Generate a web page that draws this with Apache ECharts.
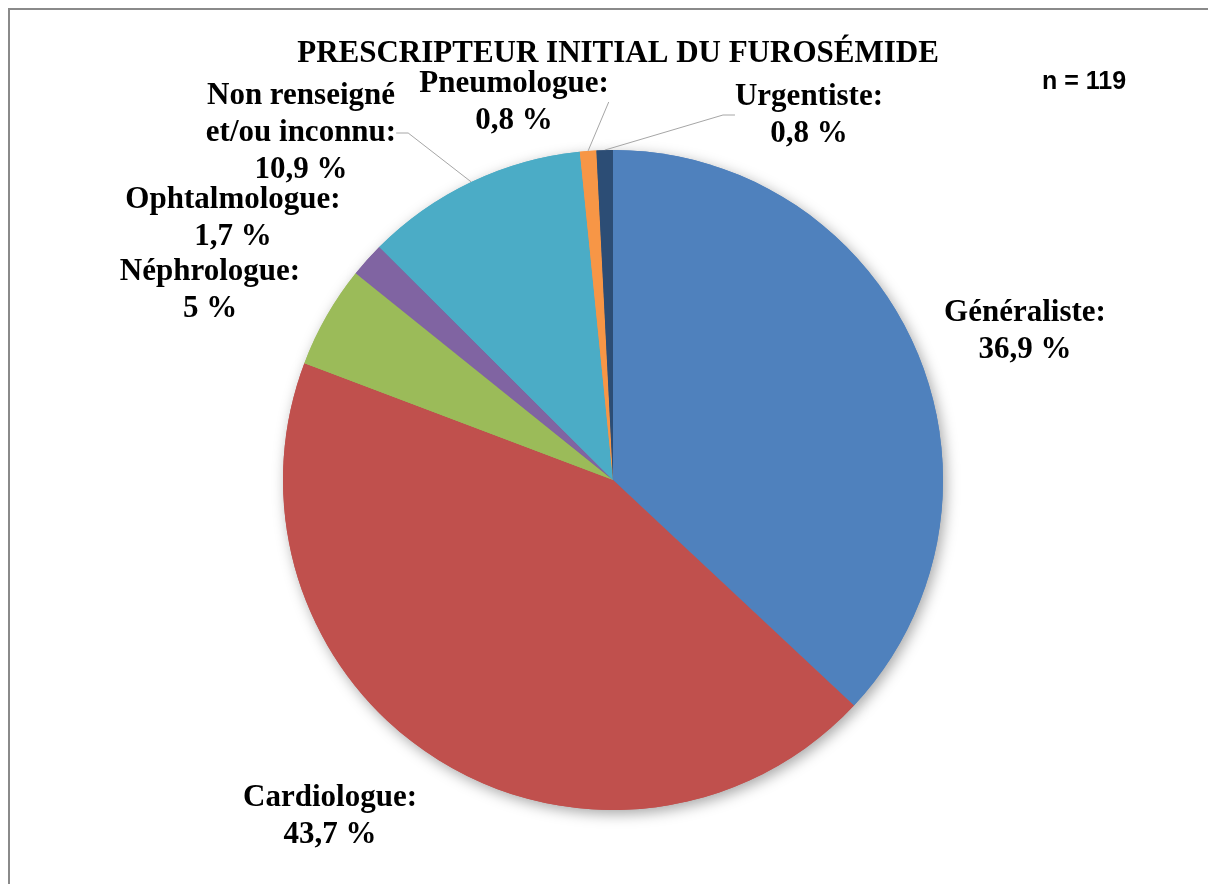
<!DOCTYPE html>
<html>
<head>
<meta charset="utf-8">
<script src="https://cdn.jsdelivr.net/npm/echarts@6/dist/echarts.min.js"></script>
<style>
html,body{margin:0;padding:0;background:#fff;}
#chart{width:1208px;height:884px;}
</style>
</head>
<body>
<div id="chart"></div>
<script>
// ---- data ----
const categories = ['Généraliste', 'Cardiologue', 'Néphrologue', 'Ophtalmologue', 'Non renseigné\net/ou inconnu', 'Pneumologue', 'Urgentiste'];
const values = [36.9, 43.7, 5, 1.7, 10.9, 0.8, 0.8];
const titleText = 'PRESCRIPTEUR INITIAL DU FUROSÉMIDE';
const sampleText = 'n = 119';

// ---- styles ----
const colors = ['#4F81BD', '#C0504D', '#9BBB59', '#8064A2', '#4BACC6', '#F79646', '#2C4D75'];
const showLine = [false, false, false, false, true, true, true];
// label block centres (px)
const labelPos = [[1025, 331], [330, 816], [210, 290], [233, 218], [301, 133], [514, 102], [809, 115]];

const fmt = v => String(v).replace('.', ',');

const chart = echarts.init(document.getElementById('chart'), null, {renderer: 'canvas'});

const mainData = categories.map((c, i) => ({
  name: c,
  value: values[i],
  itemStyle: {color: colors[i]},
  labelLine: {show: showLine[i]}
}));

chart.setOption({
  backgroundColor: '#ffffff',
  animation: false,
  title: {
    text: titleText,
    left: 613,
    top: 33,
    textAlign: 'center',
    textStyle: {fontFamily: 'Liberation Serif', fontWeight: 'bold', fontSize: 31, color: '#000'}
  },
  graphic: [
    {type: 'rect', shape: {x: 9, y: 9, width: 1220, height: 900}, style: {fill: null, stroke: '#8a8a8a', lineWidth: 2}, silent: true, z: -10},
    {type: 'text', left: 1042, top: 70, style: {text: sampleText, fontFamily: 'Liberation Sans', fontWeight: 'bold', fontSize: 25, fill: '#000'}}
  ],
  series: [
    {
      type: 'pie',
      center: [613, 480],
      radius: 330,
      startAngle: 90,
      silent: true,
      z: 1,
      label: {show: false},
      labelLine: {show: false},
      itemStyle: {shadowBlur: 14, shadowColor: 'rgba(0,0,0,0.35)', shadowOffsetX: 3, shadowOffsetY: 4},
      data: categories.map((c, i) => ({name: c, value: values[i], itemStyle: {color: colors[i]}}))
    },
    {
      type: 'pie',
      center: [613, 480],
      radius: 330,
      startAngle: 90,
      z: 2,
      avoidLabelOverlap: false,
      itemStyle: {borderWidth: 0},
      label: {
        show: true,
        position: 'outside',
        formatter: p => p.name + ':\n' + fmt(p.value) + ' %',
        fontFamily: 'Liberation Serif',
        fontWeight: 'bold',
        fontSize: 31,
        lineHeight: 37,
        color: '#000',
        align: 'center'
      },
      labelLine: {show: true, length: 20, length2: 12, lineStyle: {color: '#A6A6A6', width: 1}},
      labelLayout: p => ({
        x: labelPos[p.dataIndex][0],
        y: labelPos[p.dataIndex][1],
        align: 'center',
        verticalAlign: 'middle'
      }),
      data: mainData
    }
  ]
});
</script>
</body>
</html>
